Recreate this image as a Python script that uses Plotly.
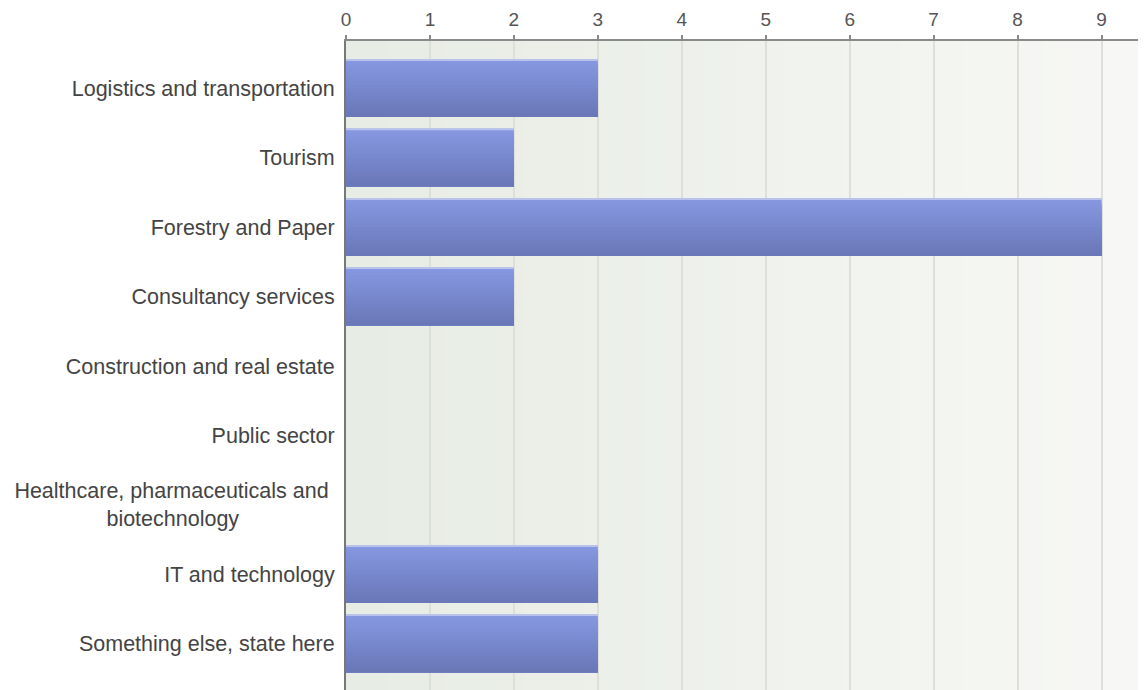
import plotly.graph_objects as go

categories = [
    "Logistics and transportation",
    "Tourism",
    "Forestry and Paper",
    "Consultancy services",
    "Construction and real estate",
    "Public sector",
    "Healthcare, pharmaceuticals and\u00a0<br>biotechnology" + "\u00a0" * 16,
    "IT and technology",
    "Something else, state here",
]
values = [3, 2, 9, 2, 0, 0, 0, 3, 3]
x_ticks = list(range(10))


def lerp(c1, c2, t):
    return "#%02x%02x%02x" % tuple(round(a + (b - a) * t) for a, b in zip(c1, c2))


fig = go.Figure()
idx = list(range(len(categories)))

# bar drawn as stacked-over slices to imitate a vertical gradient
n_slices = 16
bar_w = 0.82
top_c = (0x86, 0x97, 0xe1)
bot_c = (0x6a, 0x78, 0xb8)
sw = bar_w / n_slices
for k in range(n_slices):
    fig.add_trace(go.Bar(
        x=values, y=idx, orientation="h",
        width=bar_w - k * sw, offset=-bar_w / 2 + k * sw,
        marker=dict(color=lerp(top_c, bot_c, k / (n_slices - 1)), line=dict(width=0)),
        hoverinfo="skip", showlegend=False,
    ))
# thin light top edge
fig.add_trace(go.Bar(
    x=values, y=idx, orientation="h",
    width=0.022, offset=-bar_w / 2 - 0.011,
    marker=dict(color="#b8c2ea", line=dict(width=0)),
    hoverinfo="skip", showlegend=False,
))

# background horizontal gradient
n_bg = 40
left_c = (0xe7, 0xec, 0xe4)
right_c = (0xf7, 0xf8, 0xf5)
for k in range(n_bg):
    fig.add_shape(type="rect", xref="x domain", yref="y domain",
                  x0=k / n_bg, x1=(k + 1) / n_bg + 0.002, y0=0, y1=1,
                  fillcolor=lerp(left_c, right_c, k / (n_bg - 1)),
                  line=dict(width=0), layer="below")

# right border
fig.add_shape(type="line", xref="x domain", yref="y domain",
              x0=1, x1=1, y0=0, y1=1, line=dict(color="#cfcfcf", width=2))

fig.update_layout(
    width=1138, height=684,
    margin=dict(l=338, r=5, t=33, b=0),
    paper_bgcolor="white", plot_bgcolor="#eff2ed",
    barmode="overlay",
    font=dict(family="Liberation Sans, Arial, sans-serif", color="#444"),
)
fig.update_xaxes(
    side="top", range=[0, 9.47], tickvals=x_ticks,
    ticktext=[str(t) for t in x_ticks],
    tickfont=dict(size=19, color="#555"),
    showgrid=True, gridcolor="#dcdfdb", gridwidth=1.5,
    showline=True, linecolor="#8a8a8a", linewidth=2,
    ticks="outside", ticklen=4, tickcolor="#8a8a8a", tickwidth=1.5,
    ticklabelstandoff=1,
    zeroline=False, automargin=False,
)
fig.update_yaxes(
    range=[8.696, -0.684], tickvals=idx, ticktext=categories,
    tickfont=dict(size=21.5, color="#444"),
    showgrid=False, showline=True, linecolor="#777", linewidth=2,
    ticks="", ticklabelstandoff=5, zeroline=False, automargin=False,
)

fig.write_html("out.html")
